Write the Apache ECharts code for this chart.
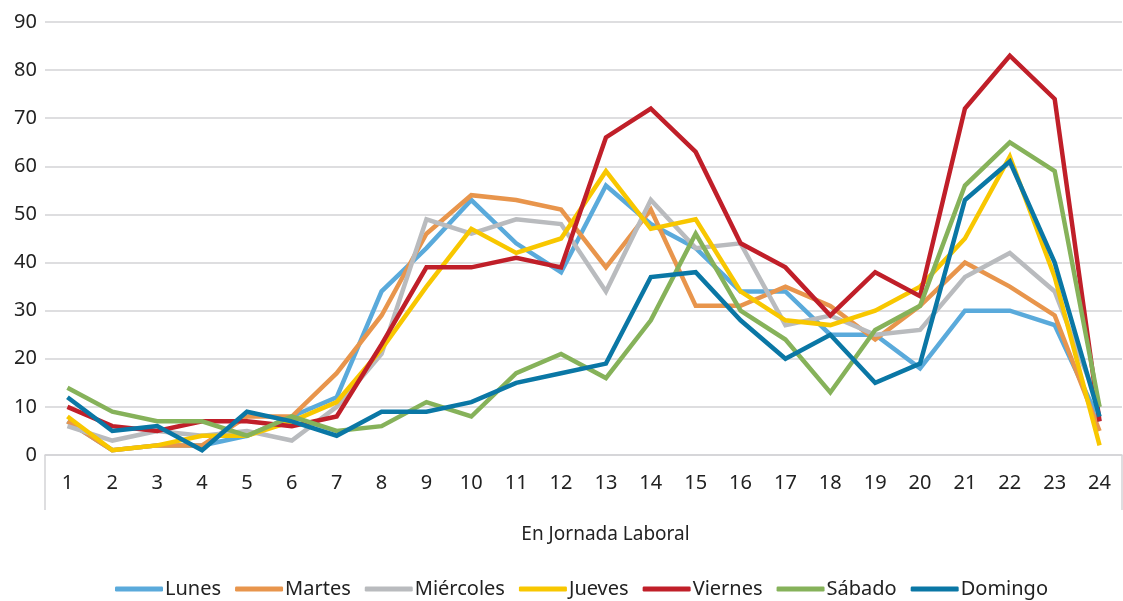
<!DOCTYPE html>
<html>
<head>
<meta charset="utf-8">
<script src="https://cdn.jsdelivr.net/npm/echarts@6/dist/echarts.min.js"></script>
<style>
  html, body { margin: 0; padding: 0; background: #fff; }
  #chart { width: 1123px; height: 601px; }
</style>
</head>
<body>
<div id="chart"></div>
<script>
var hours = ['1','2','3','4','5','6','7','8','9','10','11','12','13','14','15','16','17','18','19','20','21','22','23','24'];
var lunes     = [7, 1, 2, 2, 4, 8, 12, 34, 43, 53, 44, 38, 56, 48, 43, 34, 34, 25, 25, 18, 30, 30, 27, 7];
var martes    = [7, 1, 2, 2, 8, 8, 17, 29, 46, 54, 53, 51, 39, 51, 31, 31, 35, 31, 24, 31, 40, 35, 29, 5];
var miercoles = [6, 3, 5, 4, 5, 3, 10, 21, 49, 46, 49, 48, 34, 53, 43, 44, 27, 29, 25, 26, 37, 42, 34, 10];
var jueves    = [8, 1, 2, 4, 4, 7, 11, 22, 35, 47, 42, 45, 59, 47, 49, 34, 28, 27, 30, 35, 45, 62, 37, 2];
var viernes   = [10, 6, 5, 7, 7, 6, 8, 23, 39, 39, 41, 39, 66, 72, 63, 44, 39, 29, 38, 33, 72, 83, 74, 7];
var sabado    = [14, 9, 7, 7, 4, 8, 5, 6, 11, 8, 17, 21, 16, 28, 46, 30, 24, 13, 26, 31, 56, 65, 59, 10];
var domingo   = [12, 5, 6, 1, 9, 7, 4, 9, 9, 11, 15, 17, 19, 37, 38, 28, 20, 25, 15, 19, 53, 61, 40, 8];

var names  = ['Lunes', 'Martes', 'Miércoles', 'Jueves', 'Viernes', 'Sábado', 'Domingo'];
var colors = ['#5aaadb', '#e8954c', '#b9bbbe', '#f8c700', '#c01f29', '#86b25a', '#0a77a5'];
var values = [lunes, martes, miercoles, jueves, viernes, sabado, domingo];

var chart = echarts.init(document.getElementById('chart'));
var font = '"Noto Sans", sans-serif';
var gray = '#d3d3d6';

var series = [];
for (var i = 0; i < names.length; i++) {
  series.push({
    name: names[i],
    type: 'line',
    data: values[i],
    showSymbol: false,
    symbol: 'none',
    lineStyle: { width: 4.5, color: colors[i], join: 'miter' },
    itemStyle: { color: colors[i] },
    animation: false
  });
}

var option = {
  backgroundColor: '#fff',
  color: colors,
  grid: { left: 45, right: 1, top: 22, bottom: 146 },
  legend: {
    top: 574,
    left: 110,
    icon: 'roundRect',
    itemWidth: 48,
    itemHeight: 5,
    itemGap: 14,
    textStyle: { fontFamily: font, fontSize: 20, color: '#222', padding: [0, 0, 0, -3] },
    data: names
  },
  xAxis: [
    {
      type: 'category',
      data: hours,
      boundaryGap: true,
      axisLine: { show: true, lineStyle: { color: gray, width: 1.5 } },
      axisTick: { show: false },
      axisLabel: { fontFamily: font, fontSize: 20, color: '#222', margin: 18 },
      name: 'En Jornada Laboral',
      nameLocation: 'middle',
      nameGap: 70,
      nameTextStyle: { fontFamily: font, fontSize: 19, color: '#222', padding: [0, 0, 0, 44] }
    },
    {
      type: 'value',
      min: 0,
      max: 1,
      interval: 1,
      position: 'bottom',
      axisLine: { show: false },
      axisLabel: { show: false },
      splitLine: { show: false },
      axisTick: { show: true, length: 55, lineStyle: { color: gray, width: 1.5 } }
    }
  ],
  yAxis: {
    type: 'value',
    min: 0,
    max: 90,
    interval: 10,
    axisLine: { show: false },
    axisTick: { show: false },
    axisLabel: { fontFamily: font, fontSize: 20, color: '#222', margin: 8 },
    splitLine: { lineStyle: { color: gray, width: 1.5 } }
  },
  series: series
};

chart.setOption(option);
</script>
</body>
</html>
